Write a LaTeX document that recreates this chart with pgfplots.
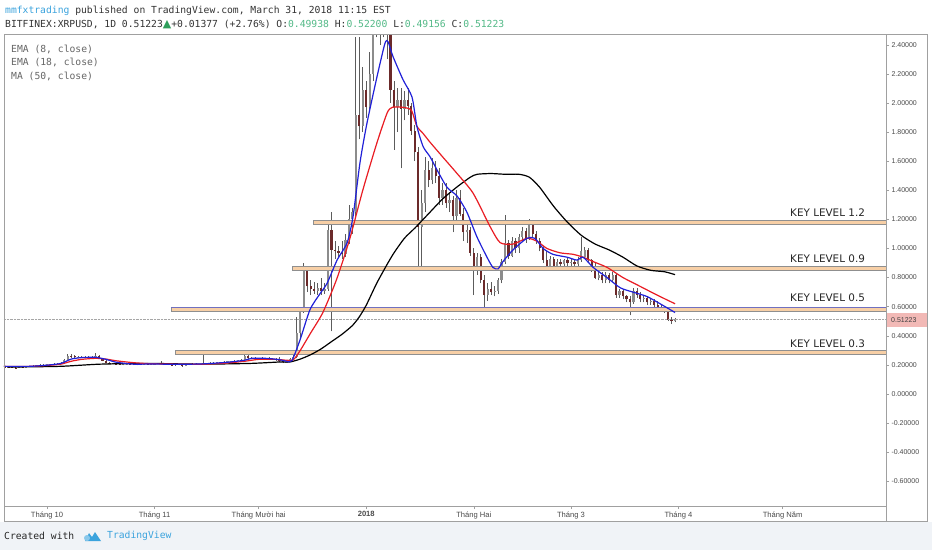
\documentclass[border=0pt]{standalone}
\usepackage{pgfplots}
\pgfplotsset{compat=1.18}
\usepackage{pgfplotstable}
\usepackage{fontspec}
\setmainfont{Liberation Sans}
\newfontfamily\monof{DejaVu Sans Mono}
\newfontfamily\dvs{DejaVu Sans}
\definecolor{upc}{HTML}{8C8C8C}
\definecolor{dnc}{HTML}{6B2A2A}
\definecolor{wickc}{HTML}{5C5C5C}
\definecolor{peach}{HTML}{F7CFA6}
\definecolor{boxgray}{HTML}{8F8F8F}
\definecolor{framegray}{HTML}{A0A0A0}
\definecolor{labgray}{HTML}{4A4A4A}
\definecolor{tvblue}{HTML}{3BA3DD}
\definecolor{numgreen}{HTML}{53B987}
\definecolor{upgreen}{HTML}{2E9E5B}
\definecolor{emablue}{HTML}{2020D8}
\definecolor{emared}{HTML}{E91C23}
\definecolor{footbg}{HTML}{F0F3F7}
\definecolor{pricebg}{HTML}{F2B9B6}
\definecolor{lvlblue}{HTML}{7070C0}

\pgfplotstableread{
d o h l c
-12 0.188 0.192 0.183 0.186
-11 0.186 0.190 0.181 0.184
-10 0.184 0.188 0.179 0.182
-9 0.182 0.186 0.178 0.181
-8 0.181 0.187 0.179 0.185
-7 0.185 0.190 0.182 0.184
-6 0.184 0.190 0.181 0.188
-5 0.188 0.193 0.185 0.190
-4 0.190 0.196 0.187 0.194
-3 0.194 0.200 0.190 0.197
-2 0.197 0.203 0.193 0.199
-1 0.199 0.204 0.195 0.201
0 0.201 0.206 0.197 0.203
1 0.203 0.208 0.199 0.205
2 0.205 0.210 0.200 0.204
3 0.204 0.212 0.201 0.209
4 0.209 0.220 0.206 0.216
5 0.216 0.240 0.213 0.236
6 0.236 0.272 0.232 0.262
7 0.262 0.275 0.250 0.258
8 0.258 0.266 0.248 0.253
9 0.253 0.262 0.246 0.255
10 0.255 0.262 0.247 0.251
11 0.251 0.258 0.245 0.253
12 0.253 0.260 0.246 0.250
13 0.250 0.258 0.244 0.254
14 0.254 0.285 0.250 0.262
15 0.262 0.266 0.240 0.245
16 0.245 0.250 0.225 0.230
17 0.230 0.234 0.212 0.216
18 0.216 0.222 0.207 0.210
19 0.210 0.214 0.203 0.206
20 0.206 0.210 0.200 0.203
21 0.203 0.208 0.198 0.201
22 0.201 0.206 0.197 0.204
23 0.204 0.209 0.200 0.206
24 0.206 0.210 0.201 0.203
25 0.203 0.207 0.198 0.200
26 0.200 0.205 0.196 0.203
27 0.203 0.208 0.199 0.206
28 0.206 0.211 0.202 0.208
29 0.208 0.212 0.203 0.205
30 0.205 0.210 0.201 0.207
31 0.207 0.212 0.203 0.209
32 0.209 0.214 0.204 0.211
33 0.211 0.225 0.205 0.208
34 0.208 0.212 0.202 0.205
35 0.205 0.209 0.199 0.202
36 0.202 0.207 0.197 0.200
37 0.200 0.205 0.195 0.203
38 0.203 0.207 0.196 0.199
39 0.199 0.203 0.186 0.195
40 0.195 0.204 0.192 0.201
41 0.201 0.207 0.198 0.205
42 0.205 0.210 0.201 0.207
43 0.207 0.211 0.202 0.204
44 0.204 0.209 0.200 0.206
45 0.206 0.270 0.203 0.210
46 0.210 0.215 0.205 0.212
47 0.212 0.217 0.207 0.214
48 0.214 0.219 0.209 0.216
49 0.216 0.221 0.211 0.218
50 0.218 0.223 0.213 0.221
51 0.221 0.226 0.216 0.223
52 0.223 0.228 0.218 0.225
53 0.225 0.230 0.220 0.227
54 0.227 0.232 0.222 0.229
55 0.229 0.234 0.224 0.231
56 0.231 0.238 0.226 0.234
57 0.234 0.268 0.230 0.262
58 0.262 0.272 0.240 0.245
59 0.245 0.252 0.238 0.248
60 0.248 0.253 0.241 0.244
61 0.244 0.250 0.238 0.247
62 0.247 0.252 0.240 0.243
63 0.243 0.249 0.237 0.246
64 0.246 0.251 0.239 0.242
65 0.242 0.247 0.235 0.240
66 0.240 0.245 0.230 0.234
67 0.234 0.252 0.220 0.224
68 0.224 0.230 0.212 0.218
69 0.218 0.226 0.213 0.222
70 0.222 0.245 0.219 0.238
71 0.238 0.270 0.232 0.252
72 0.252 0.530 0.245 0.420
73 0.420 0.600 0.380 0.580
74 0.580 0.900 0.560 0.860
75 0.860 0.870 0.700 0.740
76 0.740 0.780 0.680 0.720
77 0.720 0.770 0.690 0.710
78 0.710 0.760 0.680 0.730
79 0.730 0.800 0.680 0.710
80 0.710 0.760 0.690 0.720
81 0.720 1.160 0.710 1.130
82 1.130 1.250 0.430 0.990
83 0.990 1.050 0.930 0.980
84 0.980 1.020 0.940 0.970
85 0.970 1.050 0.930 0.960
86 0.960 1.100 0.940 1.060
87 1.060 1.300 1.030 1.200
88 1.200 1.280 1.100 1.250
89 1.250 2.450 1.220 1.920
90 1.920 2.450 1.750 1.840
91 1.840 2.250 1.800 2.090
92 2.090 2.150 1.900 1.970
93 1.970 2.350 1.950 2.200
94 2.200 2.700 2.150 2.600
95 2.600 3.000 2.450 2.650
96 2.650 2.950 2.400 2.620
97 2.620 2.900 2.450 2.720
98 2.720 2.800 2.300 2.500
99 2.500 2.550 2.000 2.090
100 2.090 2.150 1.680 1.970
101 1.970 2.100 1.800 2.020
102 2.020 2.100 1.550 1.960
103 1.960 2.080 1.880 2.020
104 2.020 2.100 1.920 1.980
105 1.980 2.000 1.780 1.810
106 1.810 1.850 1.600 1.660
107 1.660 1.700 0.870 1.150
108 1.150 1.400 0.870 1.310
109 1.310 1.630 1.250 1.540
110 1.540 1.600 1.420 1.470
111 1.470 1.620 1.440 1.550
112 1.550 1.600 1.450 1.500
113 1.500 1.550 1.300 1.350
114 1.350 1.450 1.300 1.400
115 1.400 1.450 1.280 1.310
116 1.310 1.380 1.250 1.330
117 1.330 1.360 1.110 1.220
118 1.220 1.400 1.180 1.350
119 1.350 1.400 1.220 1.240
120 1.240 1.280 1.050 1.110
121 1.110 1.160 1.040 1.130
122 1.130 1.150 0.950 0.970
123 0.970 1.000 0.680 0.880
124 0.880 0.970 0.820 0.940
125 0.940 0.960 0.760 0.780
126 0.780 0.820 0.590 0.680
127 0.680 0.760 0.640 0.720
128 0.720 0.770 0.680 0.700
129 0.700 0.740 0.670 0.710
130 0.710 0.800 0.690 0.780
131 0.780 0.930 0.760 0.910
132 0.910 1.230 0.890 1.040
133 1.040 1.060 0.930 0.950
134 0.950 1.080 0.940 1.050
135 1.050 1.070 0.970 1.000
136 1.000 1.100 0.970 1.080
137 1.080 1.150 1.050 1.120
138 1.120 1.140 1.040 1.070
139 1.070 1.200 1.060 1.180
140 1.180 1.190 1.080 1.100
141 1.100 1.120 1.030 1.050
142 1.050 1.070 0.980 1.000
143 1.000 1.020 0.900 0.920
144 0.920 0.980 0.850 0.880
145 0.880 0.950 0.860 0.930
146 0.930 0.940 0.860 0.880
147 0.880 0.930 0.870 0.910
148 0.910 0.930 0.870 0.890
149 0.890 0.930 0.880 0.920
150 0.920 0.940 0.880 0.900
151 0.900 0.930 0.870 0.910
152 0.910 0.920 0.870 0.890
153 0.890 0.940 0.880 0.920
154 0.920 1.080 0.910 0.980
155 0.940 1.010 0.930 0.990
156 0.990 1.000 0.910 0.920
157 0.920 0.930 0.840 0.850
158 0.850 0.900 0.790 0.800
159 0.800 0.840 0.780 0.820
160 0.820 0.840 0.760 0.780
161 0.780 0.840 0.760 0.820
162 0.820 0.830 0.760 0.780
163 0.780 0.840 0.770 0.820
164 0.820 0.830 0.660 0.680
165 0.680 0.720 0.660 0.710
166 0.710 0.720 0.650 0.670
167 0.670 0.680 0.630 0.650
168 0.650 0.670 0.540 0.630
169 0.630 0.730 0.620 0.710
170 0.710 0.730 0.660 0.680
171 0.680 0.700 0.630 0.650
172 0.650 0.670 0.630 0.660
173 0.660 0.670 0.610 0.630
174 0.630 0.660 0.610 0.640
175 0.640 0.650 0.600 0.610
176 0.610 0.640 0.570 0.580
177 0.580 0.610 0.570 0.600
178 0.600 0.600 0.560 0.570
179 0.570 0.580 0.500 0.510
180 0.510 0.530 0.480 0.500
181 0.49938 0.52200 0.49156 0.51223
}\ohlc

\begin{document}
\begin{tikzpicture}
\path[use as bounding box, fill=white] (0pt,0pt) rectangle (932pt,550pt);
\fill[footbg] (0pt,0pt) rectangle (932pt,28pt);
\begin{axis}[
  at={(4pt,44pt)}, anchor=south west,
  scale only axis, width=882pt, height=472pt,
  xmin=-12.39, xmax=241.79, ymin=-0.7698, ymax=2.474,
  axis line style={draw=framegray, line width=0.6pt},
  xtick={0,31,61,92,123,151,182,212},
  xticklabels={Tháng 10,Tháng 11,Tháng Mười hai,\textbf{2018},Tháng Hai,Tháng 3,Tháng 4,Tháng Năm},
  xtick pos=bottom,
  ytick={-0.6,-0.4,-0.2,0,0.2,0.4,0.6,0.8,1.0,1.2,1.4,1.6,1.8,2.0,2.2,2.4},
  ytick pos=right, yticklabel pos=right,
  tick align=outside, major tick length=3pt,
  tick style={draw=framegray, line width=0.5pt},
  /pgf/number format/assume math mode=true,
  yticklabel={\pgfmathprintnumber[fixed,fixed zerofill,precision=5]{\tick}},
  yticklabel style={font=\fontsize{7}{8}\selectfont, text=labgray, xshift=-1pt},
  xticklabel style={font=\fontsize{7.6}{9}\selectfont, text=labgray, yshift=1pt},
  clip=true,
]
% wicks
\addplot[draw=none, mark=none, forget plot,
  error bars/.cd, y dir=plus, y explicit, error mark=none,
  error bar style={draw=wickc, solid, line width=0.7pt}]
  table[x=d, y=l, y error plus expr=\thisrow{h}-\thisrow{l}] {\ohlc};
% up bodies
\addplot[draw=none, mark=none, forget plot,
  restrict expr to domain={\thisrow{c}-\thisrow{o}}{0:100},
  error bars/.cd, y dir=plus, y explicit, error mark=none,
  error bar style={draw=upc, solid, line width=2.2pt}]
  table[x=d, y=o, y error plus expr=\thisrow{c}-\thisrow{o}] {\ohlc};
% down bodies
\addplot[draw=none, mark=none, forget plot,
  restrict expr to domain={\thisrow{o}-\thisrow{c}}{0.000001:100},
  error bars/.cd, y dir=plus, y explicit, error mark=none,
  error bar style={draw=dnc, solid, line width=2.2pt}]
  table[x=d, y=c, y error plus expr=\thisrow{o}-\thisrow{c}] {\ohlc};
% key level boxes
\draw[fill=peach, draw=boxgray, line width=0.5pt] (axis cs:76.7,1.168) rectangle (axis cs:245,1.196);
\draw[fill=peach, draw=boxgray, line width=0.5pt] (axis cs:70.6,0.852) rectangle (axis cs:245,0.880);
\draw[fill=peach, draw=boxgray, line width=0.5pt] (axis cs:35.7,0.570) rectangle (axis cs:245,0.598);
\draw[draw=lvlblue, line width=0.6pt] (axis cs:35.7,0.598) -- (axis cs:245,0.598);
\draw[fill=peach, draw=boxgray, line width=0.5pt] (axis cs:36.9,0.275) rectangle (axis cs:245,0.302);
% last price line
\addplot[densely dotted, draw=gray!70, line width=0.4pt, forget plot] coordinates {(-12.39,0.51223) (241.79,0.51223)};
% MA 50
\addplot[black, line width=1.2pt, smooth, tension=0.4] coordinates {
(-11.5,0.185) (3.7,0.19) (15.3,0.205) (29.7,0.21) (44.1,0.205) (58.5,0.21) (67.1,0.22) (70,0.22) (73,0.24) (76,0.27) (79,0.31) (82,0.36) (85,0.41) (88,0.47) (90,0.53) (92,0.61) (95,0.76) (98,0.89) (100,0.97) (103,1.07) (106,1.14) (110,1.24) (114,1.34) (118,1.42) (122,1.49) (124,1.51) (128,1.515) (132,1.51) (136,1.51) (139,1.49) (142,1.42) (146,1.29) (150,1.18) (154,1.09) (158,1.03) (162,0.99) (166,0.94) (170,0.88) (174,0.85) (178,0.84) (181,0.82)};
% EMA 18
\addplot[emared, line width=1.2pt, smooth, tension=0.4] coordinates {
(-12.4,0.19) (-5,0.19) (0,0.196) (4,0.205) (7,0.225) (10,0.238) (14,0.245) (17,0.24) (20,0.228) (25,0.215) (30,0.208) (38,0.205) (45,0.205) (52,0.213) (57,0.225) (61,0.238) (66,0.238) (69,0.232) (71,0.235) (73,0.30) (76,0.42) (79.5,0.56) (83.5,0.79) (87.3,1.07) (91,1.40) (95,1.72) (98,1.93) (99.5,1.97) (102.6,1.97) (105,1.95) (106.6,1.84) (108.4,1.79) (110.4,1.73) (114,1.63) (118,1.52) (122.8,1.38) (127.7,1.15) (130.6,1.04) (134.3,1.03) (138.3,1.07) (141.2,1.05) (144.1,1.00) (147.9,0.97) (151.6,0.96) (154.5,0.94) (157.4,0.91) (161.4,0.87) (166,0.80) (170.9,0.74) (175.8,0.68) (181,0.62)};
% EMA 8
\addplot[emablue, line width=1.2pt, smooth, tension=0.4] coordinates {
(-12.4,0.19) (-5,0.19) (0,0.198) (4,0.21) (7,0.24) (10,0.25) (14,0.252) (17,0.238) (20,0.218) (25,0.205) (30,0.206) (38,0.204) (45,0.207) (52,0.218) (57,0.232) (59,0.245) (63,0.245) (67,0.236) (69,0.225) (70.6,0.23) (72.9,0.37) (75.8,0.58) (78.7,0.69) (80.7,0.76) (83.6,0.92) (86.5,1.04) (88.2,1.22) (90.2,1.59) (92.2,1.86) (95.1,2.18) (97.4,2.41) (98.3,2.42) (99.7,2.32) (102.6,2.16) (105.2,2.04) (106.6,1.84) (108.4,1.70) (110.4,1.63) (112.4,1.54) (115.3,1.42) (118.2,1.36) (121.0,1.25) (123.9,1.08) (126.8,0.94) (128.5,0.87) (130,0.86) (131.4,0.91) (134.3,0.99) (138.3,1.07) (140.6,1.07) (143,1.00) (145.8,0.96) (149.9,0.94) (152.7,0.92) (154.5,0.94) (157.4,0.87) (161.4,0.80) (165.2,0.73) (168.9,0.70) (172.9,0.67) (176.7,0.62) (181,0.56)};
\end{axis}
% frames
\draw[framegray, line width=0.6pt] (4pt,29pt) rectangle (927pt,516pt);
\draw[framegray, line width=0.6pt] (886pt,29pt) -- (886pt,516pt);
% header
\node[anchor=west, inner sep=0pt, font=\monof\fontsize{9.7}{11}\selectfont, text=black!80] at (5pt,539pt)
  {\textcolor{tvblue}{mmfxtrading} published on TradingView.com, March 31, 2018 11:15 EST};
\node[anchor=west, inner sep=0pt, font=\monof\fontsize{9.7}{11}\selectfont, text=black!80] at (5pt,525pt)
  {BITFINEX:XRPUSD, 1D 0.51223{\dvs\fontsize{11}{11}\selectfont\textcolor{upgreen}{▲}}+0.01377 (+2.76\%) O:\textcolor{numgreen}{0.49938} H:\textcolor{numgreen}{0.52200} L:\textcolor{numgreen}{0.49156} C:\textcolor{numgreen}{0.51223}};
% indicator legend
\node[anchor=west, inner sep=0pt, font=\monof\fontsize{9.7}{11}\selectfont, text=black!60] at (11pt,501pt) {EMA (8, close)};
\node[anchor=west, inner sep=0pt, font=\monof\fontsize{9.7}{11}\selectfont, text=black!60] at (11pt,488pt) {EMA (18, close)};
\node[anchor=west, inner sep=0pt, font=\monof\fontsize{9.7}{11}\selectfont, text=black!60] at (11pt,474pt) {MA (50, close)};
% key level labels
\node[anchor=west, inner sep=0pt, font=\dvs\fontsize{10.4}{12}\selectfont, text=black!85] at (790pt,337pt) {KEY LEVEL 1.2};
\node[anchor=west, inner sep=0pt, font=\dvs\fontsize{10.4}{12}\selectfont, text=black!85] at (790pt,291pt) {KEY LEVEL 0.9};
\node[anchor=west, inner sep=0pt, font=\dvs\fontsize{10.4}{12}\selectfont, text=black!85] at (790pt,252pt) {KEY LEVEL 0.5};
\node[anchor=west, inner sep=0pt, font=\dvs\fontsize{10.4}{12}\selectfont, text=black!85] at (790pt,206pt) {KEY LEVEL 0.3};
% last price label
\fill[pricebg] (886.5pt,223pt) rectangle (926.5pt,237pt);
\node[anchor=west, inner sep=0pt, font=\fontsize{7}{8}\selectfont, text=black!75] at (891pt,230pt) {0.51223};
% footer
\node[anchor=west, inner sep=0pt, font=\monof\fontsize{9.7}{11}\selectfont, text=black!85] at (4pt,14pt) {Created with};
\fill[tvblue] (85pt,9pt) -- (89pt,17pt) -- (92pt,13pt) -- (95pt,18pt) -- (101pt,9pt) -- cycle;
\fill[tvblue!60] (87pt,12pt) circle (3pt);
\node[anchor=west, inner sep=0pt, font=\monof\fontsize{9.7}{11}\selectfont, text=tvblue] at (107pt,14pt) {TradingView};
\end{tikzpicture}
\end{document}
